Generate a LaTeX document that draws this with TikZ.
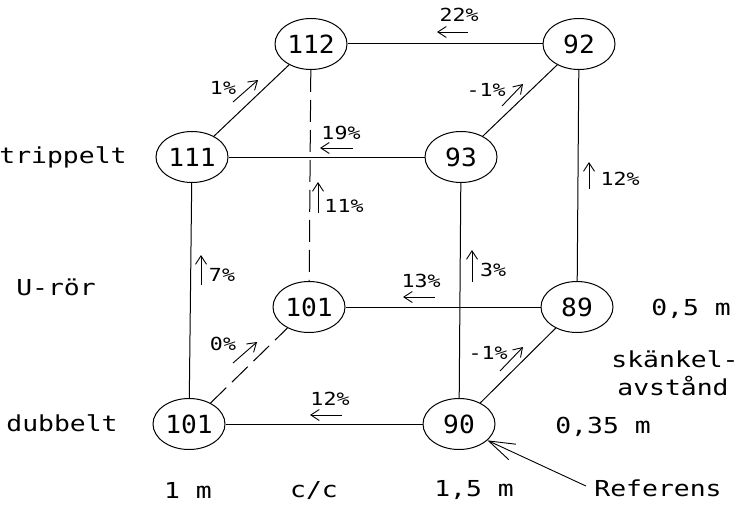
\documentclass[tikz,border=0pt]{standalone}
\usepackage{fontspec}
\usetikzlibrary{arrows.meta,shapes.geometric}
\newfontfamily\cadfont{DejaVu Sans Mono}[FakeStretch=1.2]
\newfontfamily\numfont{DejaVu Sans Mono}[FakeStretch=1.05]
\begin{document}
\begin{tikzpicture}[x=1pt,y=-1pt,
  line width=1pt,
  vnode/.style={ellipse,draw,minimum width=72pt,minimum height=51pt,inner sep=0pt,
    font=\numfont\fontsize{25}{25}\selectfont},
  lbl/.style={font=\cadfont\fontsize{22}{22}\selectfont,inner sep=0pt},
  pct/.style={font=\cadfont\fontsize{18}{18}\selectfont,inner sep=0pt},
  chg/.style={line width=0.9pt,-{Straight Barb[length=8.5pt,width=11pt]}},
  hidden/.style={dash pattern=on 22pt off 8pt},
  refarrow/.style={line width=0.9pt,-{Straight Barb[length=26pt,width=17pt]}}]
\useasboundingbox (0,0) rectangle (743,508);

% cube corners
\node[vnode] (n112) at (311,44) {112};
\node[vnode] (n92)  at (579,44) {92};
\node[vnode] (n111) at (192,157) {111};
\node[vnode] (n93)  at (461,157) {93};
\node[vnode] (n101b) at (309,307) {101};
\node[vnode] (n89)  at (577,307) {89};
\node[vnode] (n101f) at (189,424) {101};
\node[vnode] (n90)  at (459,424) {90};

% visible edges
\draw (n112) -- (n92);
\draw (n111) -- (n93);
\draw (n101b) -- (n89);
\draw (n101f) -- (n90);
\draw (n111) -- (n101f);
\draw (n93) -- (n90);
\draw (n92) -- (n89);
\draw (n111) -- (n112);
\draw (n93) -- (n92);
\draw (n90) -- (n89);
% hidden edges
\draw[hidden] (n112) -- (n101b);
\draw[hidden] (n101f) -- (n101b);

% change arrows with percentages
\coordinate (a22s) at (468,32); \coordinate (a22e) at (437,32);
\draw[chg] (a22s) -- (a22e);
\node[pct] (p22) at (459,15) {22\%};

\coordinate (a19s) at (353,148); \coordinate (a19e) at (320,148);
\draw[chg] (a19s) -- (a19e);
\node[pct] (p19) at (341,133) {19\%};

\coordinate (a13s) at (435,297); \coordinate (a13e) at (403,297);
\draw[chg] (a13s) -- (a13e);
\node[pct] (p13) at (421,281) {13\%};

\coordinate (a12bs) at (342,415); \coordinate (a12be) at (310,415);
\draw[chg] (a12bs) -- (a12be);
\node[pct] (p12b) at (330,399) {12\%};

\coordinate (a1s) at (233,102); \coordinate (a1e) at (258,80);
\draw[chg] (a1s) -- (a1e);
\node[pct] (p1) at (223,88) {1\%};

\coordinate (am1ts) at (502,106); \coordinate (am1te) at (523,84);
\draw[chg] (am1ts) -- (am1te);
\node[pct] (pm1t) at (486,90) {-1\%};

\coordinate (a0s) at (233,363); \coordinate (a0e) at (257,342);
\draw[chg] (a0s) -- (a0e);
\node[pct] (p0) at (223,344) {0\%};

\coordinate (am1bs) at (500,371); \coordinate (am1be) at (523,347);
\draw[chg] (am1bs) -- (am1be);
\node[pct] (pm1b) at (488,353) {-1\%};

\coordinate (a11s) at (318,213); \coordinate (a11e) at (318,182);
\draw[chg] (a11s) -- (a11e);
\node[pct] (p11) at (344,206) {11\%};

\coordinate (a7s) at (201,285); \coordinate (a7e) at (201,255);
\draw[chg] (a7s) -- (a7e);
\node[pct] (p7) at (222,275) {7\%};

\coordinate (a3s) at (472,282); \coordinate (a3e) at (472,250);
\draw[chg] (a3s) -- (a3e);
\node[pct] (p3) at (493,270) {3\%};

\coordinate (a12rs) at (589,189); \coordinate (a12re) at (589,162);
\draw[chg] (a12rs) -- (a12re);
\node[pct] (p12r) at (620,179) {12\%};

% axis labels
\node[lbl] (trip) at (63,157) {trippelt};
\node[lbl] (uror) at (56,287) {U-rör};
\node[lbl] (dubb) at (62,423) {dubbelt};
\node[lbl] (m1)  at (188,490) {1 m};
\node[lbl] (cc)  at (314,490) {c/c};
\node[lbl] (m15) at (474,490) {1,5 m};
\node[lbl] (m05) at (691,309) {0,5 m};
\node[lbl] (sk1) at (675,359) {skänkel-};
\node[lbl] (sk2) at (673,386) {avstånd};
\node[lbl] (m035) at (603,427) {0,35 m};
\node[lbl] (ref) at (658,488) {Referens};
\draw[refarrow] ([xshift=-8pt,yshift=2pt]ref.west) -- (n90.-30);
\end{tikzpicture}
\end{document}
